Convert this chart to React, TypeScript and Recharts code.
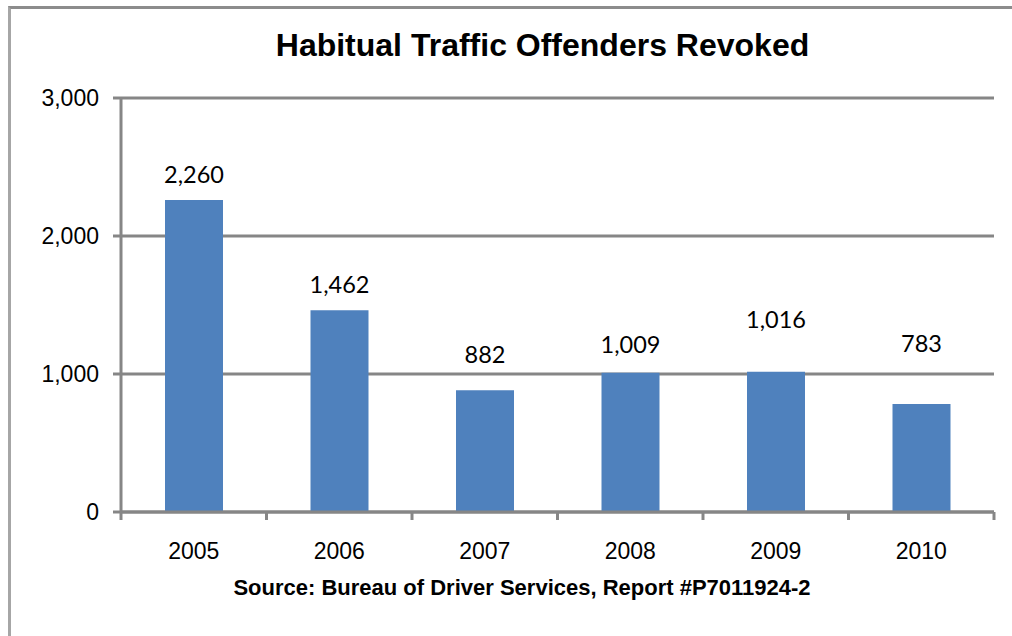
import { BarChart, Bar, XAxis, YAxis, CartesianGrid, LabelList } from 'recharts';

const years = ['2005', '2006', '2007', '2008', '2009', '2010'];
const revoked = [2260, 1462, 882, 1009, 1016, 783];
const yTicks = [0, 1000, 2000, 3000];
// labels were hand-nudged upward in the source chart
const labelLift = [0, 0, 10, 3, 27, 35];

const chartData = years.map((year, i) => ({ year, revoked: revoked[i] }));

const GRID = '#868686';
const BAR = '#4f81bd';
const PLOT_LEFT = 121;
const PLOT_RIGHT = 994;
const BAND = (PLOT_RIGHT - PLOT_LEFT) / years.length;

const fmt = (v: number) => v.toLocaleString('en-US');

function YearTick(props: any) {
  const { x, y, payload, index } = props;
  const left = x - BAND / 2;
  const right = x + BAND / 2;
  return (
    <g>
      <line x1={left} y1={y - 8} x2={left} y2={y} stroke={GRID} strokeWidth={3} />
      {index === years.length - 1 && (
        <line x1={right} y1={y - 8} x2={right} y2={y} stroke={GRID} strokeWidth={3} />
      )}
      <text
        x={x}
        y={y + 39}
        textAnchor="middle"
        fontFamily="'Liberation Sans', Arial, sans-serif"
        fontSize={23}
        fill="#000"
      >
        {payload.value}
      </text>
    </g>
  );
}

function ValueLabel(props: any) {
  const { x, y, width, value, index } = props;
  return (
    <text
      x={x + width / 2}
      y={y - 17 - (labelLift[index] || 0)}
      textAnchor="middle"
      fontFamily="Lato, 'Open Sans', sans-serif"
      fontSize={23.5}
      fill="#000"
    >
      {fmt(Number(value))}
    </text>
  );
}

export default function App() {
  return (
    <div
      style={{
        position: 'fixed',
        left: 0,
        top: 0,
        width: 1012,
        height: 636,
        background: '#fff',
        overflow: 'hidden',
      }}
    >
      <div
        style={{
          position: 'absolute',
          left: 8,
          top: 6,
          width: 1100,
          height: 700,
          borderLeft: '3px solid #a6a6a6',
          borderTop: '3px solid #8c8c8c',
        }}
      />
      <div
        style={{
          position: 'absolute',
          left: 0,
          width: 1085,
          top: 25,
          textAlign: 'center',
          fontFamily: "'Liberation Sans', Arial, sans-serif",
          fontWeight: 'bold',
          fontSize: 32,
          lineHeight: '40px',
        }}
      >
        Habitual Traffic Offenders Revoked
      </div>
      <BarChart
        width={1012}
        height={636}
        data={chartData}
        margin={{ top: 98, right: 18, bottom: 0, left: 0 }}
      >
        <CartesianGrid vertical={false} stroke={GRID} strokeWidth={3} />
        <XAxis
          dataKey="year"
          axisLine={{ stroke: GRID, strokeWidth: 3 }}
          tickLine={false}
          tick={<YearTick />}
          interval={0}
          height={124}
        />
        <YAxis
          width={121}
          domain={[0, 3000]}
          ticks={yTicks}
          tickFormatter={fmt}
          axisLine={{ stroke: GRID, strokeWidth: 3 }}
          tickLine={{ stroke: GRID, strokeWidth: 3 }}
          tickSize={8}
          tickMargin={14}
          tick={{ fill: '#000', fontSize: 23, fontFamily: "'Liberation Sans', Arial, sans-serif" }}
        />
        <Bar dataKey="revoked" fill={BAR} barSize={58} isAnimationActive={false}>
          <LabelList dataKey="revoked" content={<ValueLabel />} />
        </Bar>
      </BarChart>
      <div
        style={{
          position: 'absolute',
          left: 0,
          width: 1044,
          top: 575,
          textAlign: 'center',
          fontFamily: "'Liberation Sans', Arial, sans-serif",
          fontWeight: 'bold',
          fontSize: 22,
          lineHeight: '26px',
        }}
      >
        Source: Bureau of Driver Services, Report #P7011924-2
      </div>
    </div>
  );
}
